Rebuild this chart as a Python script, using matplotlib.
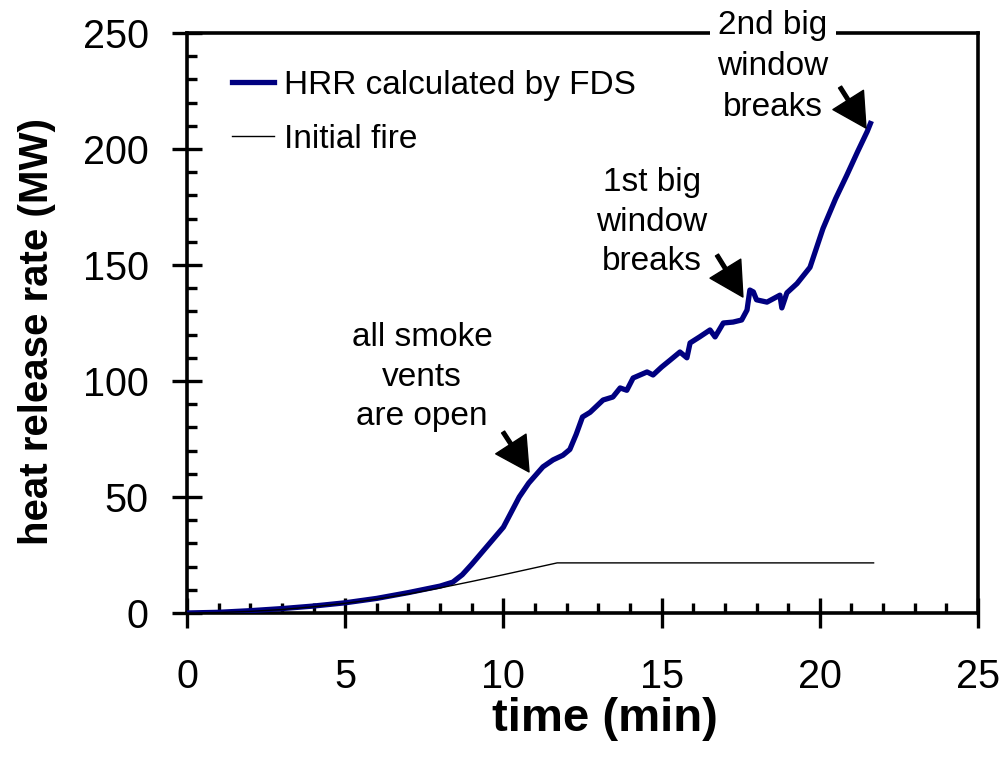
import matplotlib
matplotlib.use("Agg")
import matplotlib.pyplot as plt
from matplotlib.ticker import MultipleLocator

plt.rcParams['font.family'] = ['Liberation Sans', 'DejaVu Sans']

# ---- data ----
hrr_time = [0, 1, 2, 3, 4, 5, 6, 7, 8, 8.4, 8.7, 9.0, 9.5, 10.0, 10.5, 10.8, 11.25,
            11.57, 11.88, 12.1, 12.3, 12.5, 12.74, 13.15, 13.46, 13.69, 13.9, 14.1,
            14.32, 14.54, 14.73, 15.0, 15.27, 15.58, 15.8, 15.9, 16.2, 16.53, 16.69,
            16.95, 17.26, 17.53, 17.7, 17.79, 17.9, 18.0, 18.33, 18.74, 18.8, 18.96,
            19.28, 19.69, 20.1, 20.5, 20.85, 21.2, 21.5, 21.6]
hrr_mw = [0, 0.3, 1.0, 1.9, 3.0, 4.4, 6.3, 8.8, 11.6, 13.3, 16.5, 21, 29, 37, 50, 56, 63,
          66, 68, 70.5, 77, 84.5, 86.5, 91.8, 93.1, 97, 96, 101.3,
          102.6, 103.9, 102.6, 106, 109, 112.5, 110, 116.4, 119, 122, 119,
          125, 125.4, 126.3, 130.6, 139.2, 138.4, 135, 134, 137, 131.5, 138,
          142, 149, 165.7, 178.6, 188.6, 199, 207.6, 211]

fire_time = [0, 1, 2, 3, 4, 5, 6, 7, 8, 9, 10, 11, 11.7, 21.7]
fire_mw = [0, 0.2, 0.7, 1.5, 2.7, 4.2, 6.0, 8.2, 10.8, 13.6, 16.5, 19.5, 21.6, 21.6]

series_labels = ["HRR calculated by FDS", "Initial fire"]
x_ticks = [0, 5, 10, 15, 20, 25]
y_ticks = [0, 50, 100, 150, 200, 250]

# annotations: text, text position, arrow tail, arrow tip (data units)
annotations = [
    ("all smoke\nvents\nare open", (7.43, 101.7), (9.99, 78.0), (10.81, 60.8)),
    ("1st big\nwindow\nbreaks", (14.70, 168.5), (16.75, 154.3), (17.57, 136.2)),
    ("2nd big\nwindow\nbreaks", (18.52, 235.5), (20.64, 226.7), (21.46, 209.0)),
]

# ---- figure ----
fig = plt.figure(figsize=(10.06, 7.62), dpi=100)
ax = fig.add_axes([187 / 1006, 1 - 613 / 762, 791 / 1006, 580 / 762])

ax.plot(hrr_time, hrr_mw, color='#000080', lw=3.8, label=series_labels[0],
        solid_joinstyle='round', zorder=3)
ax.plot(fire_time, fire_mw, color='black', lw=1.0, label=series_labels[1], zorder=4)

ax.set_xlim(0, 25)
ax.set_ylim(0, 250)
ax.set_xticks(x_ticks)
ax.set_yticks(y_ticks)
ax.xaxis.set_minor_locator(MultipleLocator(1))
ax.yaxis.set_minor_locator(MultipleLocator(10))

for s in ax.spines.values():
    s.set_linewidth(2.6)

ax.tick_params(which='major', direction='inout', length=21, width=2.4,
               labelsize=28.5)
ax.tick_params(axis='x', which='major', pad=22)
ax.tick_params(axis='y', which='major', pad=17)
ax.tick_params(which='minor', direction='in', length=7.5, width=2.4)

ax.set_xlabel("time (min)", fontsize=34, fontweight='bold')
ax.xaxis.set_label_coords(0.528, -0.145)
ax.set_ylabel("heat release rate (MW)", fontsize=29, fontweight='bold')
ax.yaxis.set_label_coords(-0.166, 0.486)

leg = ax.legend(loc='upper left', bbox_to_anchor=(0.0569, 0.937), frameon=False,
                fontsize=24, handlelength=1.25, handletextpad=0.3,
                labelspacing=0.7, borderpad=0, borderaxespad=0)

for i, (txt, tpos, tail, tip) in enumerate(annotations):
    kw = {}
    ls = 1.36
    if i == 2:
        kw = dict(bbox=dict(facecolor='white', edgecolor='none', pad=5),
                  clip_on=False, zorder=5)
        ls = 1.42
    ax.text(tpos[0], tpos[1], txt, fontsize=24, ha='center', va='center',
            linespacing=ls, **kw)
    ax.annotate('', xy=tip, xytext=tail, xycoords='data', textcoords='data',
                arrowprops=dict(facecolor='black', edgecolor='black', width=2.6,
                                headwidth=26, headlength=24, shrink=0),
                zorder=6)

fig.savefig("out.png", dpi=100)
